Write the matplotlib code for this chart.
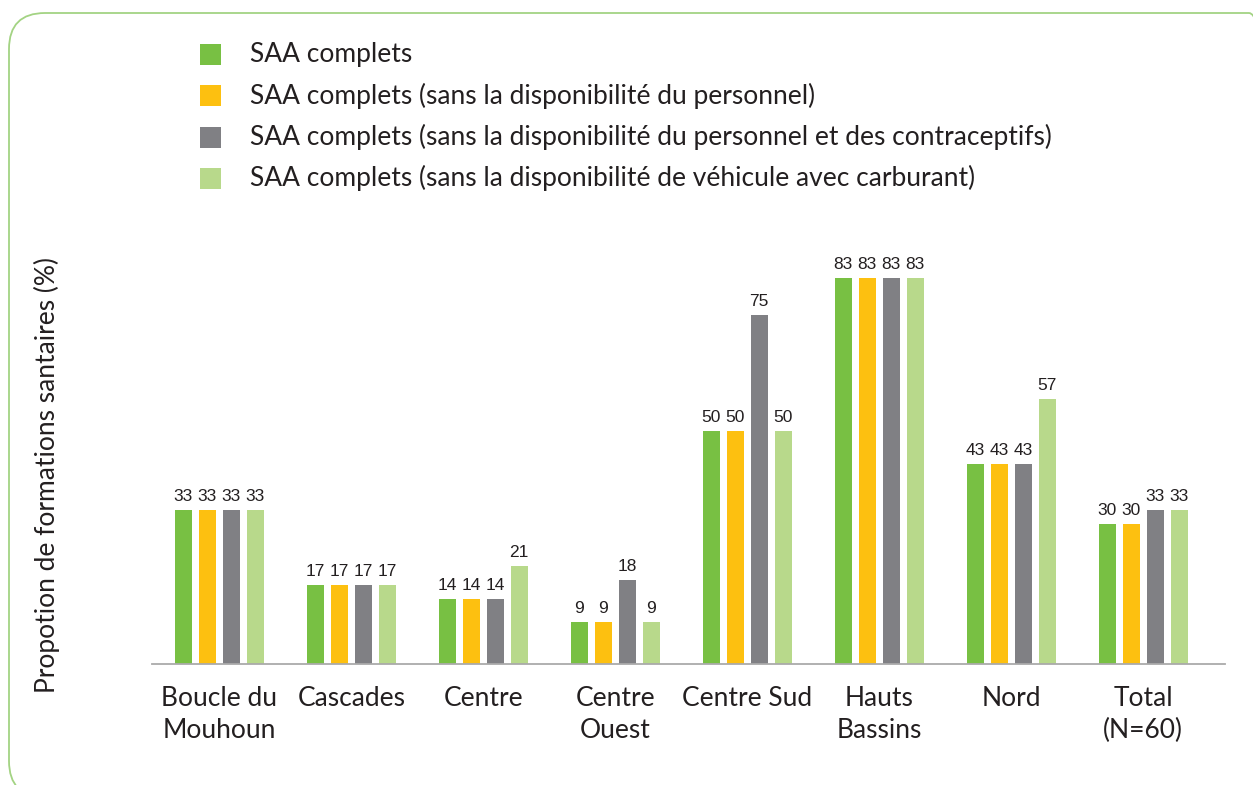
import numpy as np
import matplotlib.pyplot as plt
from matplotlib.patches import FancyBboxPatch, Rectangle
from matplotlib.transforms import IdentityTransform

plt.rcParams['font.family'] = ['Lato', 'DejaVu Sans']

# Data
regions = ['Boucle du\nMouhoun', 'Cascades', 'Centre', 'Centre\nOuest', 'Centre Sud',
           'Hauts\nBassins', 'Nord', 'Total\n(N=60)']
saa_complets = [33, 17, 14, 9, 50, 83, 43, 30]
saa_sans_perso = [33, 17, 14, 9, 50, 83, 43, 30]
saa_sans_perso_contra = [33, 17, 14, 18, 75, 83, 43, 33]
saa_sans_vehicule = [33, 17, 21, 9, 50, 83, 57, 33]

series = [saa_complets, saa_sans_perso, saa_sans_perso_contra, saa_sans_vehicule]
labels = ['SAA complets',
          'SAA complets (sans la disponibilité du personnel)',
          'SAA complets (sans la disponibilité du personnel et des contraceptifs)',
          'SAA complets (sans la disponibilité de véhicule avec carburant)']
colors = ['#78c043', '#fdc010', '#808084', '#b8d98b']

fig = plt.figure(figsize=(12.53, 7.85), dpi=100)
ax = fig.add_axes([152/1253, 121/785, 1073/1253, 419/785])

x = np.arange(len(regions))
width = 0.129
step = 0.182
for i, (vals, col) in enumerate(zip(series, colors)):
    pos = x + (i - 1.5) * step
    ax.bar(pos, vals, width=width, color=col, zorder=2)
    for p, v in zip(pos, vals):
        ax.text(p, v + 1.3, str(v), ha='center', va='bottom', fontsize=12.5,
                color='#231f20', family=['Liberation Sans', 'DejaVu Sans'])

ax.set_xlim(-0.51, 7.62)
ax.set_ylim(0, 90)
ax.set_yticks([])
ax.set_xticks(x)
ax.set_xticklabels(regions, fontsize=19, color='#231f20', linespacing=1.35)
ax.tick_params(axis='x', length=0, pad=16)
for s in ['top', 'right', 'left']:
    ax.spines[s].set_visible(False)
ax.spines['bottom'].set_color('#aaaaaa')
ax.spines['bottom'].set_linewidth(1.3)

fig.text(47/1253, 1 - 475/785, 'Propotion de formations santaires (%)', rotation=90,
         ha='center', va='center', fontsize=19, color='#231f20')

# legend
for i, (lab, col) in enumerate(zip(labels, colors)):
    yc = 1 - (54.5 + i * 41.3) / 785
    fig.add_artist(Rectangle((200/1253, yc - 10.5/785), 21/1253, 21/785,
                             transform=fig.transFigure, color=col, lw=0))
    fig.text(250/1253, yc, lab, ha='left', va='center', fontsize=19, color='#231f20')

# rounded frame (pixel coordinates)
frame = FancyBboxPatch((9, -12), 1276, 784,
                       boxstyle='round,pad=0,rounding_size=36',
                       transform=IdentityTransform(), fill=False,
                       edgecolor='#a3d383', linewidth=1.3)
fig.add_artist(frame)

fig.savefig('out.png', dpi=100)
